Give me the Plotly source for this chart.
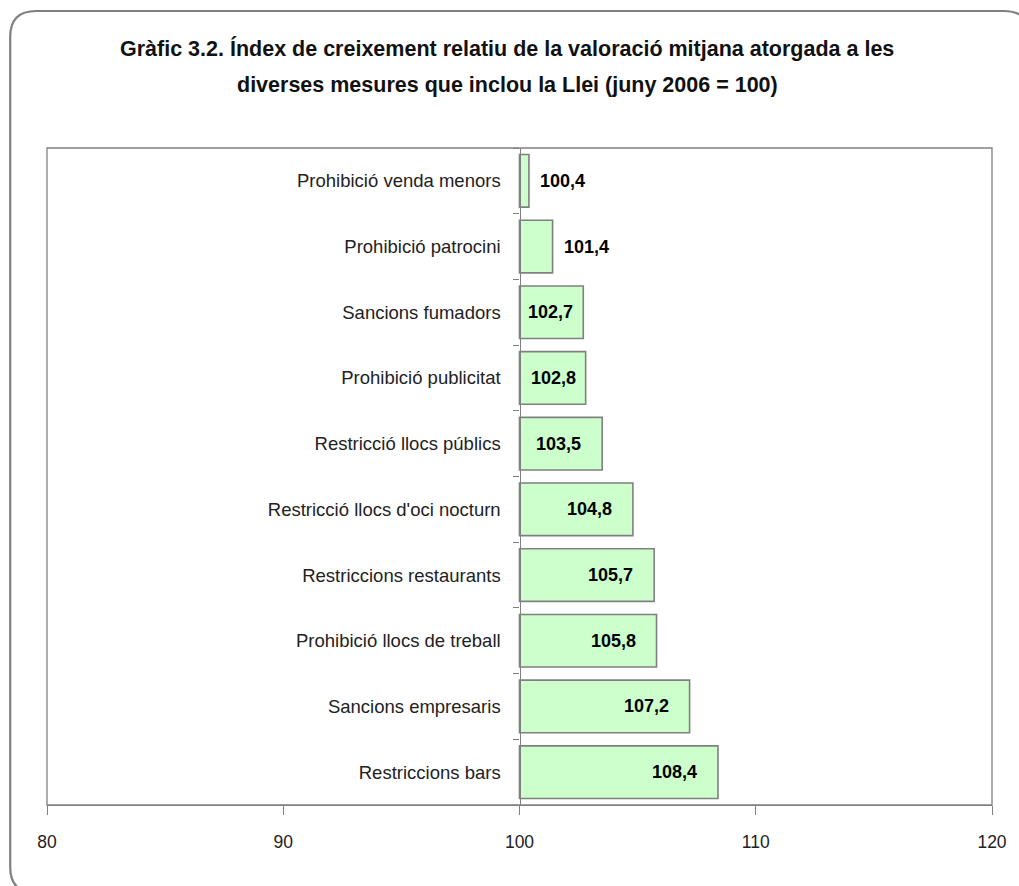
import plotly.graph_objects as go

categories = [
    "Prohibició venda menors",
    "Prohibició patrocini",
    "Sancions fumadors",
    "Prohibició publicitat",
    "Restricció llocs públics",
    "Restricció llocs d'oci nocturn",
    "Restriccions restaurants",
    "Prohibició llocs de treball",
    "Sancions empresaris",
    "Restriccions bars",
]
values = [100.4, 101.4, 102.7, 102.8, 103.5, 104.8, 105.7, 105.8, 107.2, 108.4]
base_value = 100
x_ticks = [80, 90, 100, 110, 120]
title_lines = [
    "Gràfic 3.2. Índex de creixement relatiu de la valoració mitjana atorgada a les",
    "diverses mesures que inclou la Llei (juny 2006 = 100)",
]

W, H = 1019, 886
L, R, T, B = 47, 997, 148, 805  # plot area in pixels
FONT = "Liberation Sans, Arial, sans-serif"
GRAY = "#808080"


def px_x(p):
    return (p - L) / (R - L)


def px_y(p):
    return (B - p) / (B - T)


fig = go.Figure()
fig.add_trace(go.Bar(
    y=categories,
    x=[v - base_value for v in values],
    base=base_value,
    orientation="h",
    marker=dict(color="#CCFFCC", line=dict(color=GRAY, width=1.6)),
    hoverinfo="skip",
))

annotations = []
for c, v in zip(categories, values):
    lbl = f"{v:.1f}".replace(".", ",")
    if v - base_value < 2:
        annotations.append(dict(x=v, y=c, xref="x", yref="y", text=f"<b>{lbl}</b>",
                                showarrow=False, xanchor="left", xshift=9,
                                font=dict(family=FONT, size=18, color="#000")))
    else:
        pad = 19 if v - base_value >= 3.4 else 8
        annotations.append(dict(x=v, y=c, xref="x", yref="y", text=f"<b>{lbl}</b>",
                                showarrow=False, xanchor="right", xshift=-pad,
                                font=dict(family=FONT, size=18, color="#000")))

for i, (line, yc) in enumerate(zip(title_lines, [48, 85])):
    annotations.append(dict(x=px_x(509.5), y=px_y(yc), xref="paper", yref="paper",
                            text=f"<b>{line}</b>", showarrow=False, xanchor="center",
                            yanchor="middle", font=dict(family=FONT, size=21.5, color="#111")))

# outer rounded frame
fx0, fy0, fx1, fy1, r = 10, 11, 1035, 893, 26
path = (
    f"M {px_x(fx0)},{px_y(fy0 + r)} "
    f"Q {px_x(fx0)},{px_y(fy0)} {px_x(fx0 + r)},{px_y(fy0)} "
    f"L {px_x(fx1 - r)},{px_y(fy0)} "
    f"Q {px_x(fx1)},{px_y(fy0)} {px_x(fx1)},{px_y(fy0 + r)} "
    f"L {px_x(fx1)},{px_y(fy1 - r)} "
    f"Q {px_x(fx1)},{px_y(fy1)} {px_x(fx1 - r)},{px_y(fy1)} "
    f"L {px_x(fx0 + r)},{px_y(fy1)} "
    f"Q {px_x(fx0)},{px_y(fy1)} {px_x(fx0)},{px_y(fy1 - r)} Z"
)
shapes = [
    dict(type="path", path=path, xref="paper", yref="paper",
         line=dict(color=GRAY, width=2.2), layer="below"),
    dict(type="rect", x0=0, x1=1, y0=0, y1=1, xref="paper", yref="paper",
         line=dict(color=GRAY, width=1.3), layer="above"),
]

fig.update_layout(
    width=W, height=H,
    margin=dict(l=L, r=W - R, t=T, b=H - B, pad=0),
    paper_bgcolor="white", plot_bgcolor="white",
    showlegend=False,
    bargap=0.2,
    annotations=annotations,
    shapes=shapes,
    font=dict(family=FONT, size=18, color="#222"),
    xaxis=dict(
        range=[80, 120], tickvals=x_ticks, ticktext=[str(t) for t in x_ticks],
        showgrid=False, zeroline=False, showline=True, linecolor=GRAY, linewidth=1.3,
        ticks="outside", ticklen=9, tickcolor=GRAY, tickwidth=1.3,
        ticklabelstandoff=12,
        tickfont=dict(family=FONT, size=17.5, color="#222"),
        fixedrange=True,
    ),
    yaxis=dict(
        categoryorder="array", categoryarray=categories, autorange="reversed",
        anchor="free", position=0.5,
        showgrid=False, zeroline=False, showline=True, linecolor=GRAY, linewidth=1.3,
        ticks="outside", ticklen=6, tickcolor=GRAY, tickwidth=1.3,
        tickson="boundaries", ticklabelstandoff=15,
        tickfont=dict(family=FONT, size=18.5, color="#222"),
        fixedrange=True,
    ),
)

fig.write_html("out.html", config={"displayModeBar": False},
               post_script="document.body.style.margin='0';document.body.style.overflow='hidden';")
